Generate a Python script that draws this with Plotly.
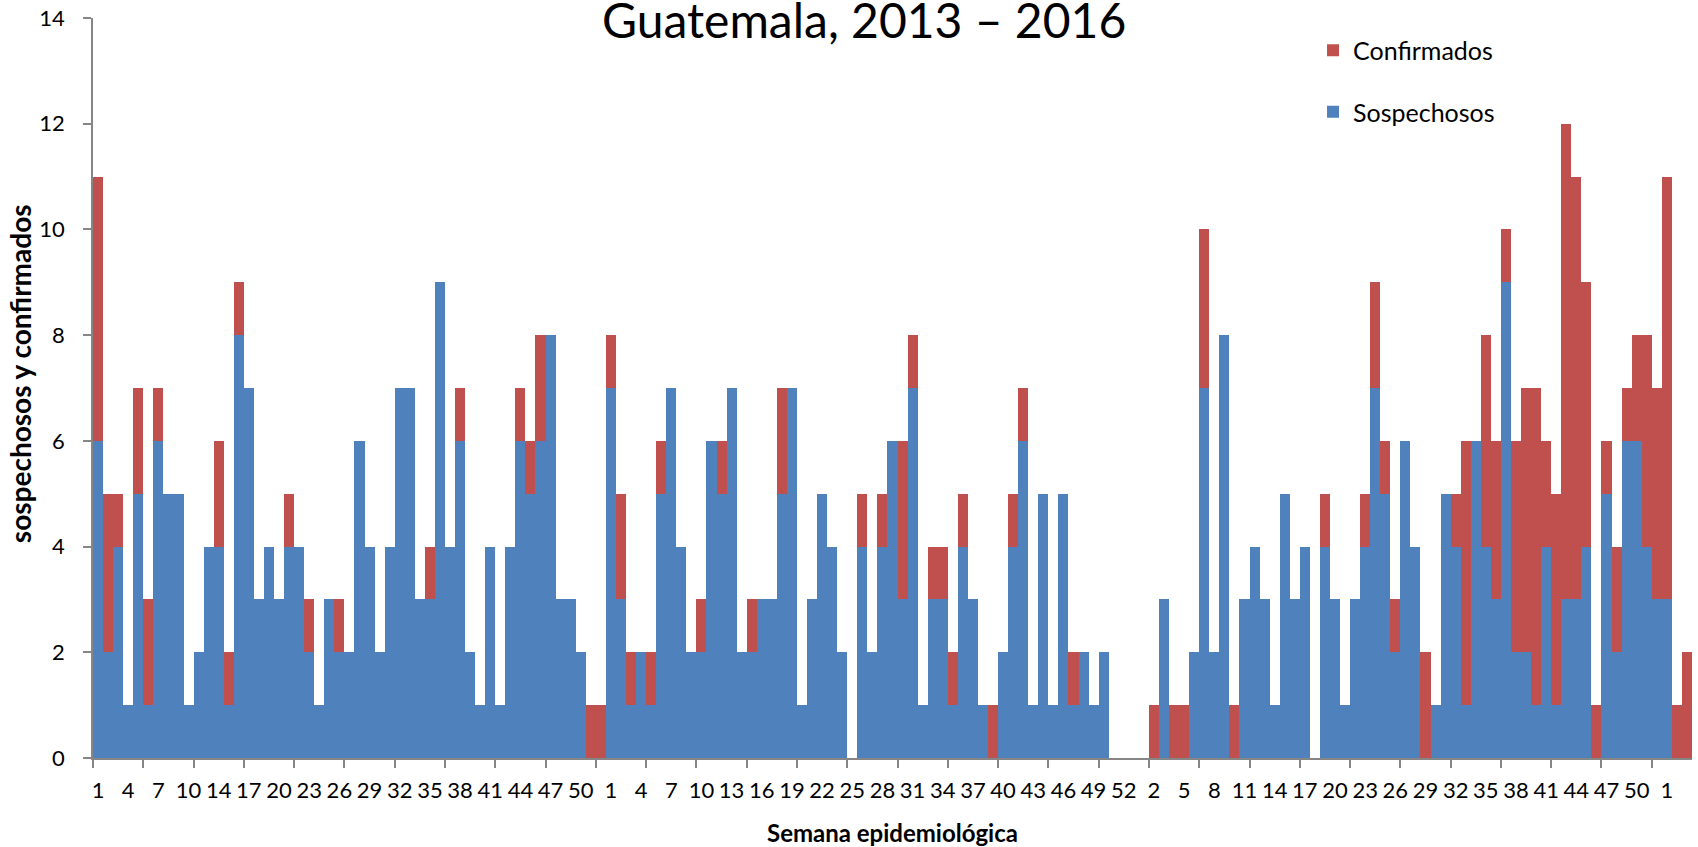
import plotly.graph_objects as go

# Week labels (categories) per year
semanas_2013 = [1, 2, 3, 4, 5, 6, 7, 8, 9, 10, 11, 12, 14, 15, 16, 17, 18, 19, 20, 21,
                22, 23, 24, 25, 26, 27, 28, 29, 30, 31, 32, 33, 34, 35, 36, 37, 38, 39,
                40, 41, 42, 43, 44, 45, 46, 47, 48, 49, 50, 51, 52]
semanas_2014 = [1, 2, 3, 4, 5, 6, 7, 8, 9, 10, 11, 12, 13, 14, 15, 16, 17, 18, 19, 20,
                21, 22, 23, 24, 25, 26, 27, 28, 29, 30, 31, 32, 33, 34, 35, 36, 37, 38,
                39, 40, 41, 42, 43, 44, 45, 46, 47, 48, 49, 50, 51, 52, 53]
semanas_2015 = [1, 2, 3, 4, 5, 6, 7, 8, 9, 10, 11, 12, 13, 14, 15, 16, 17, 18, 19, 20,
                21, 22, 23, 24, 25, 26, 27, 28, 29, 30, 31, 32, 33, 34, 35, 36, 37, 38,
                39, 40, 41, 42, 43, 44, 45, 46, 47, 48, 49, 50, 51, 52]
semanas_2016 = [1, 2, 3]

# Sospechosos (suspected) per week
sosp_2013 = [6, 2, 4, 1, 5, 1, 6, 5, 5, 1, 2, 4, 4, 1, 8, 7, 3, 4, 3, 4,
             4, 2, 1, 3, 2, 2, 6, 4, 2, 4, 7, 7, 3, 3, 9, 4, 6, 2, 1, 4,
             1, 4, 6, 5, 6, 8, 3, 3, 2, 0, 0]
sosp_2014 = [7, 3, 1, 2, 1, 5, 7, 4, 2, 2, 6, 5, 7, 2, 2, 3, 3, 5, 7, 1,
             3, 5, 4, 2, 0, 4, 2, 4, 6, 3, 7, 1, 3, 3, 1, 4, 3, 1, 0, 2,
             4, 6, 1, 5, 1, 5, 1, 2, 1, 2, 0, 0, 0]
sosp_2015 = [0, 0, 3, 0, 0, 2, 7, 2, 8, 0, 3, 4, 3, 1, 5, 3, 4, 0, 4, 3,
             1, 3, 4, 7, 5, 2, 6, 4, 0, 1, 5, 4, 1, 6, 4, 3, 9, 2, 2, 1,
             4, 1, 3, 3, 4, 0, 5, 2, 6, 6, 4, 3]
sosp_2016 = [3, 0, 0]

# Confirmados (confirmed) per week
conf_2013 = [5, 3, 1, 0, 2, 2, 1, 0, 0, 0, 0, 0, 2, 1, 1, 0, 0, 0, 0, 1,
             0, 1, 0, 0, 1, 0, 0, 0, 0, 0, 0, 0, 0, 1, 0, 0, 1, 0, 0, 0,
             0, 0, 1, 1, 2, 0, 0, 0, 0, 1, 1]
conf_2014 = [1, 2, 1, 0, 1, 1, 0, 0, 0, 1, 0, 1, 0, 0, 1, 0, 0, 2, 0, 0,
             0, 0, 0, 0, 0, 1, 0, 1, 0, 3, 1, 0, 1, 1, 1, 1, 0, 0, 1, 0,
             1, 1, 0, 0, 0, 0, 1, 0, 0, 0, 0, 0, 0]
conf_2015 = [0, 1, 0, 1, 1, 0, 3, 0, 0, 1, 0, 0, 0, 0, 0, 0, 0, 0, 1, 0,
             0, 0, 1, 2, 1, 1, 0, 0, 2, 0, 0, 1, 5, 0, 4, 3, 1, 4, 5, 6,
             2, 4, 9, 8, 5, 1, 1, 2, 1, 2, 4, 4]
conf_2016 = [8, 1, 2]

semanas = semanas_2013 + semanas_2014 + semanas_2015 + semanas_2016
sospechosos = sosp_2013 + sosp_2014 + sosp_2015 + sosp_2016
confirmados = conf_2013 + conf_2014 + conf_2015 + conf_2016
idx = list(range(len(semanas)))

BLUE = "#4F81BD"
RED = "#C0504D"
AXIS = "#868686"
FONT = "Lato"

fig = go.Figure()
fig.add_trace(go.Bar(x=idx, y=sospechosos, name="Sospechosos",
                     marker=dict(color=BLUE, line=dict(width=0)),
                     legendgroup="s", legendrank=2))
fig.add_trace(go.Bar(x=idx, y=confirmados, name="Confirmados",
                     marker=dict(color=RED, line=dict(width=0)),
                     legendgroup="c", legendrank=1))

label_pos = idx[::3]
label_txt = [str(semanas[i]) for i in label_pos]
minor_pos = [i - 0.5 for i in idx[::5]]

fig.update_layout(
    width=1698, height=847,
    barmode="stack", bargap=0,
    plot_bgcolor="white", paper_bgcolor="white",
    margin=dict(l=93, r=6, t=18, b=89),
    font=dict(family=FONT, color="black", size=22),
    showlegend=True,
    legend=dict(x=0.763, y=0.987, xanchor="left", yanchor="top",
                traceorder="grouped", tracegroupgap=26,
                font=dict(family=FONT, size=25, color="black"),
                bgcolor="rgba(0,0,0,0)", itemwidth=30),
    xaxis=dict(range=[-0.5, len(idx) - 0.5], tickmode="array",
               tickvals=label_pos, ticktext=label_txt, automargin=False,
               ticks="outside", ticklen=12, tickcolor="rgba(0,0,0,0)",
               showline=True, linecolor=AXIS, linewidth=1.5,
               showgrid=False, zeroline=False,
               tickfont=dict(family=FONT, size=22, color="black"),
               minor=dict(tickmode="array", tickvals=minor_pos, ticks="outside",
                          ticklen=8, tickcolor=AXIS, tickwidth=1.5, showgrid=False)),
    yaxis=dict(range=[0, 14], tickmode="array", tickvals=[0, 2, 4, 6, 8, 10, 12, 14],
               ticks="outside", ticklen=8, tickcolor=AXIS, tickwidth=1.5,
               showline=True, linecolor=AXIS, linewidth=1.5, automargin=False,
               showgrid=False, zeroline=False, ticklabelstandoff=14,
               tickfont=dict(family=FONT, size=22, color="black")),
    annotations=[
        dict(text="Guatemala, 2013 – 2016", xref="paper", yref="paper",
             x=0.482, y=0.957, xanchor="center", yanchor="bottom", showarrow=False,
             font=dict(family=FONT, size=48, color="black")),
        dict(text="<b>Semana epidemiológica</b>", xref="paper", yref="paper",
             x=0.5, y=-0.1, xanchor="center", yanchor="middle", showarrow=False,
             font=dict(family=FONT, size=24, color="black")),
        dict(text="<b>sospechosos y confirmados</b>", xref="paper", yref="paper",
             x=-0.0457, y=0.52, xanchor="center", yanchor="middle", showarrow=False,
             textangle=-90, font=dict(family=FONT, size=28, color="black")),
    ],
)

fig.write_html("out.html", config={"displayModeBar": False},
               post_script="document.body.style.margin='0';document.body.style.overflow='hidden';")
